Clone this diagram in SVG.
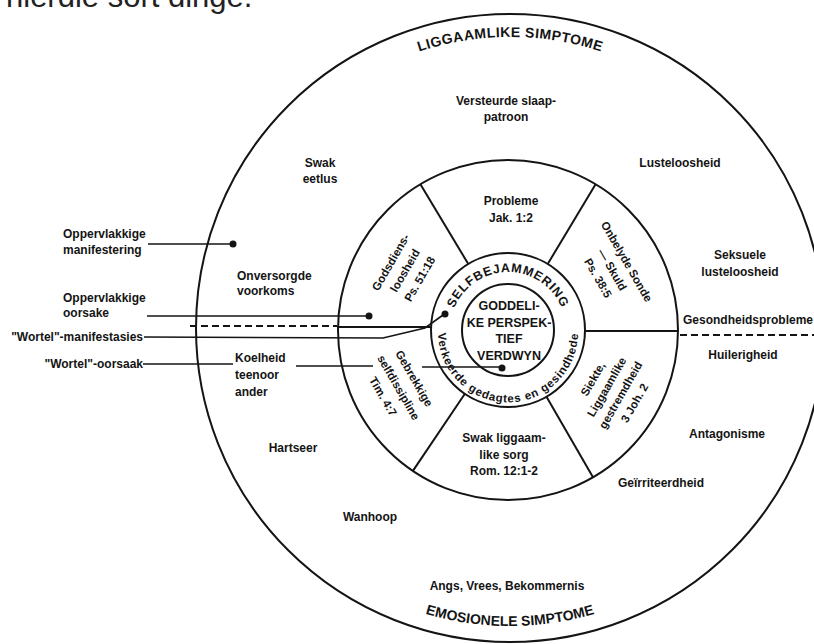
<svg xmlns="http://www.w3.org/2000/svg" width="814" height="644" viewBox="0 0 814 644">
<style>
text{font-family:"Liberation Sans",Arial,Helvetica,sans-serif;font-weight:bold;font-size:12px;fill:#141414}
.m{text-anchor:middle}
.e{text-anchor:end}
.s{font-size:11.5px}
.ln{stroke:#141414;stroke-width:2;fill:none}
.cn{stroke:#141414;stroke-width:1.6;fill:none}
.ds{stroke:#141414;stroke-width:2;stroke-dasharray:7 4;fill:none}
.dot{fill:#141414}
.arc{font-size:14px}
.top{font-family:"Liberation Sans",Arial,sans-serif;font-weight:normal;font-size:31px;fill:#222}
</style>
<defs>
<path id="pTop" d="M219,328 A291,291 0 0 1 801,328"/>
<path id="pBot" d="M212,328 A298,298 0 0 0 808,328"/>
<path id="pRingTop" d="M453.5,310.2 A58,58 0 0 1 562.5,310.2"/>
<path id="pRingBot" d="M438,332.4 A70,70 0 0 0 578,332.4"/>
</defs>
<rect width="814" height="644" fill="#fff"/>
<text class="top" x="6" y="7">hierdie sort dinge.</text>

<g id="circles">
<circle class="ln" cx="510" cy="328" r="314" stroke-width="2.4"/>
<circle class="ln" cx="508" cy="330" r="170"/>
<circle class="ln" cx="508" cy="330" r="77"/>
<circle class="ln" cx="508" cy="330" r="46"/>
<line class="ln" x1="547.7" y1="264" x2="595.6" y2="184.3"/>
<line class="ln" x1="468.3" y1="264" x2="420.4" y2="184.3"/>
<line class="ln" x1="464.9" y1="393.8" x2="412.9" y2="470.9"/>
<line class="ln" x1="546.5" y1="396.7" x2="593" y2="477.2"/>
<line class="ln" x1="585" y1="331" x2="678" y2="331"/>
</g>

<g id="connectors">
<line class="ds" x1="190" y1="326" x2="337" y2="326"/>
<line class="ln" x1="337" y1="327" x2="432" y2="327"/>
<line class="ds" x1="680" y1="335" x2="814" y2="335"/>
<line class="cn" x1="148" y1="244" x2="232" y2="244"/>
<circle class="dot" cx="233" cy="244" r="3.5"/>
<line class="cn" x1="147" y1="316" x2="368" y2="316"/>
<circle class="dot" cx="369" cy="316" r="3.5"/>
<polyline class="cn" points="144,337 383,338 425,328 443,315"/>
<circle class="dot" cx="445" cy="314" r="3.5"/>
<line class="cn" x1="143" y1="364" x2="233" y2="364"/>
<line class="cn" x1="296" y1="366" x2="373" y2="366"/>
<line class="cn" x1="422" y1="367" x2="500" y2="367"/>
<circle class="dot" cx="502" cy="368" r="3.5"/>
</g>

<g id="title-liggaamlike"><text class="arc"><textPath href="#pTop" startOffset="50%" text-anchor="middle" textLength="185" lengthAdjust="spacing">LIGGAAMLIKE SIMPTOME</textPath></text></g>
<g id="title-emosionele"><text class="arc"><textPath href="#pBot" startOffset="50%" text-anchor="middle">EMOSIONELE SIMPTOME</textPath></text></g>

<g id="n-versteurde"><text class="m" x="506" y="105">Versteurde slaap-</text><text class="m" x="506" y="121">patroon</text></g>
<g id="n-swak-eetlus"><text class="m" x="320" y="167">Swak</text><text class="m" x="320" y="183">eetlus</text></g>
<g id="n-lusteloosheid"><text class="m" x="680" y="167">Lusteloosheid</text></g>
<g id="n-seksuele"><text class="m" x="740" y="259">Seksuele</text><text class="m" x="740" y="276">lusteloosheid</text></g>
<g id="n-gesondheid"><text x="683" y="324">Gesondheidsprobleme</text></g>
<g id="n-huilerigheid"><text class="m" x="743" y="359">Huilerigheid</text></g>
<g id="n-antagonisme"><text class="m" x="727" y="438">Antagonisme</text></g>
<g id="n-geirriteerdheid"><text class="m" x="661" y="487">Geïrriteerdheid</text></g>
<g id="n-angs"><text class="m" x="507" y="590">Angs, Vrees, Bekommernis</text></g>
<g id="n-wanhoop"><text class="m" x="370" y="521">Wanhoop</text></g>
<g id="n-hartseer"><text class="m" x="293" y="452">Hartseer</text></g>
<g id="n-onversorgde"><text x="237" y="280">Onversorgde</text><text x="237" y="295">voorkoms</text></g>
<g id="n-koelheid"><text x="235" y="362">Koelheid</text><text x="235" y="379">teenoor</text><text x="235" y="396">ander</text></g>

<g id="lbl-opp-manifestering"><text x="63" y="238">Oppervlakkige</text><text x="63" y="254">manifestering</text></g>
<g id="lbl-opp-oorsake"><text x="63" y="302">Oppervlakkige</text><text x="63" y="317">oorsake</text></g>
<g id="lbl-wortel-manifestasies"><text class="e" x="143" y="341">"Wortel"-manifestasies</text></g>
<g id="lbl-wortel-oorsaak"><text class="e" x="143" y="368">"Wortel"-oorsaak</text></g>

<g id="s-probleme"><text class="m" x="511" y="205">Probleme</text><text class="m" x="511" y="222">Jak. 1:2</text></g>
<g id="s-onbelyde" transform="translate(614.5,268.5) rotate(60)"><text class="m s" x="0" y="-10">Onbelyde Sonde</text><text class="m s" x="0" y="6.5">— Skuld</text><text class="m s" x="0" y="23">Ps. 38:5</text></g>
<g id="s-godsdiens" transform="translate(401.5,268.5) rotate(-60)"><text class="m s" x="0" y="-8.5">Godsdiens-</text><text class="m s" x="0" y="8">loosheid</text><text class="m s" x="0" y="25">Ps. 51:18</text></g>
<g id="s-gebrekkige" transform="translate(401.5,391.5) rotate(60)"><text class="m s" x="-5" y="-13.5">Gebrekkige</text><text class="m s" x="-5" y="4.5">selfdissipline</text><text class="m s" x="-5" y="22.5">Tim. 4:7</text></g>
<g id="s-siekte" transform="translate(614.5,391.5) rotate(-60)"><text class="m s" x="0" y="-21">Siekte,</text><text class="m s" x="0" y="-5">Liggaamlike</text><text class="m s" x="0" y="11">gestremdheid</text><text class="m s" x="0" y="27">3 Joh. 2</text></g>
<g id="s-swak-sorg"><text class="m" x="504" y="442">Swak liggaam-</text><text class="m" x="504" y="459">like sorg</text><text class="m" x="504" y="475">Rom. 12:1-2</text></g>

<g id="ring-selfbejammering"><text style="font-size:12.5px;letter-spacing:0.8px"><textPath href="#pRingTop" startOffset="50%" text-anchor="middle">SELFBEJAMMERING</textPath></text></g>
<g id="ring-verkeerde"><text style="font-size:11.5px;letter-spacing:0.8px"><textPath href="#pRingBot" startOffset="50%" text-anchor="middle">Verkeerde gedagtes en gesindhede</textPath></text></g>

<g id="center"><text class="m" style="font-size:12.5px" x="509" y="310">GODDELI-</text><text class="m" style="font-size:12.5px" x="509" y="327">KE PERSPEK-</text><text class="m" style="font-size:12.5px" x="509" y="343">TIEF</text><text class="m" style="font-size:12.5px" x="509" y="360">VERDWYN</text></g>
</svg>
